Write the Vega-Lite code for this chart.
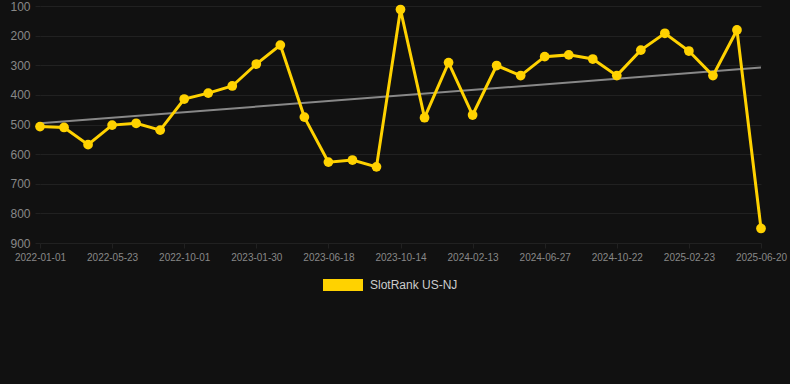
{
  "$schema": "https://vega.github.io/schema/vega-lite/v6.json",
  "width": 748,
  "height": 237,
  "autosize": {"type": "none"},
  "padding": {"left": 40, "top": 6, "right": 2, "bottom": 141},
  "background": "#111111",
  "config": {
    "view": {"stroke": null},
    "font": "Liberation Sans",
    "axis": {"domain": false, "gridColor": "#212121", "tickColor": "#212121", "gridWidth": 1, "tickSize": 5, "labelColor": "#888888"}
  },
  "datasets": {
    "rank": [
      {"date": "2022-01-01", "rank": 507, "series": "SlotRank US-NJ"},
      {"date": "2022-02-17", "rank": 510, "series": "SlotRank US-NJ"},
      {"date": "2022-04-05", "rank": 568, "series": "SlotRank US-NJ"},
      {"date": "2022-05-23", "rank": 502, "series": "SlotRank US-NJ"},
      {"date": "2022-07-05", "rank": 496, "series": "SlotRank US-NJ"},
      {"date": "2022-08-18", "rank": 519, "series": "SlotRank US-NJ"},
      {"date": "2022-10-01", "rank": 414, "series": "SlotRank US-NJ"},
      {"date": "2022-11-10", "rank": 394, "series": "SlotRank US-NJ"},
      {"date": "2022-12-20", "rank": 370, "series": "SlotRank US-NJ"},
      {"date": "2023-01-30", "rank": 296, "series": "SlotRank US-NJ"},
      {"date": "2023-03-16", "rank": 232, "series": "SlotRank US-NJ"},
      {"date": "2023-05-02", "rank": 475, "series": "SlotRank US-NJ"},
      {"date": "2023-06-18", "rank": 627, "series": "SlotRank US-NJ"},
      {"date": "2023-07-27", "rank": 620, "series": "SlotRank US-NJ"},
      {"date": "2023-09-05", "rank": 643, "series": "SlotRank US-NJ"},
      {"date": "2023-10-14", "rank": 112, "series": "SlotRank US-NJ"},
      {"date": "2023-11-23", "rank": 477, "series": "SlotRank US-NJ"},
      {"date": "2024-01-03", "rank": 291, "series": "SlotRank US-NJ"},
      {"date": "2024-02-13", "rank": 468, "series": "SlotRank US-NJ"},
      {"date": "2024-03-28", "rank": 301, "series": "SlotRank US-NJ"},
      {"date": "2024-05-12", "rank": 335, "series": "SlotRank US-NJ"},
      {"date": "2024-06-27", "rank": 271, "series": "SlotRank US-NJ"},
      {"date": "2024-08-05", "rank": 265, "series": "SlotRank US-NJ"},
      {"date": "2024-09-13", "rank": 279, "series": "SlotRank US-NJ"},
      {"date": "2024-10-22", "rank": 335, "series": "SlotRank US-NJ"},
      {"date": "2024-12-02", "rank": 249, "series": "SlotRank US-NJ"},
      {"date": "2025-01-12", "rank": 192, "series": "SlotRank US-NJ"},
      {"date": "2025-02-23", "rank": 252, "series": "SlotRank US-NJ"},
      {"date": "2025-04-03", "rank": 335, "series": "SlotRank US-NJ"},
      {"date": "2025-05-12", "rank": 181, "series": "SlotRank US-NJ"},
      {"date": "2025-06-20", "rank": 851, "series": "SlotRank US-NJ"}
    ],
    "trend": [
      {"date": "2022-01-01", "rank": 496},
      {"date": "2025-06-20", "rank": 308}
    ]
  },
  "encoding": {
    "x": {
      "field": "date", "type": "ordinal",
      "scale": {"type": "point", "range": [0, 721], "padding": 0},
      "axis": {
        "title": null, "labelAngle": 0, "labelFontSize": 10, "labelPadding": 4,
        "values": ["2022-01-01", "2022-05-23", "2022-10-01", "2023-01-30", "2023-06-18", "2023-10-14", "2024-02-13", "2024-06-27", "2024-10-22", "2025-02-23", "2025-06-20"]
      }
    },
    "y": {
      "field": "rank", "type": "quantitative",
      "scale": {"domain": [100, 900], "reverse": true, "nice": false, "zero": false},
      "axis": {"title": null, "values": [100, 200, 300, 400, 500, 600, 700, 800, 900], "labelFontSize": 12, "labelPadding": 5}
    }
  },
  "layer": [
    {
      "data": {"name": "trend"},
      "mark": {"type": "line", "color": "#888888", "strokeWidth": 2}
    },
    {
      "data": {"name": "rank"},
      "mark": {"type": "line", "strokeWidth": 3},
      "encoding": {
        "color": {
          "field": "series", "type": "nominal",
          "scale": {"range": ["#FFD200"]},
          "legend": {
            "title": null, "orient": "none", "legendX": 283, "legendY": 259,
            "symbolType": "M-1,-0.3H1V0.3H-1Z", "symbolSize": 1600, "symbolStrokeWidth": 0,
            "symbolOpacity": 1, "labelColor": "#cccccc", "labelFontSize": 12, "labelOffset": 7
          }
        }
      }
    },
    {
      "data": {"name": "rank"},
      "mark": {"type": "point", "filled": true, "size": 95, "opacity": 1},
      "encoding": {
        "color": {"field": "series", "type": "nominal"}
      }
    }
  ]
}
